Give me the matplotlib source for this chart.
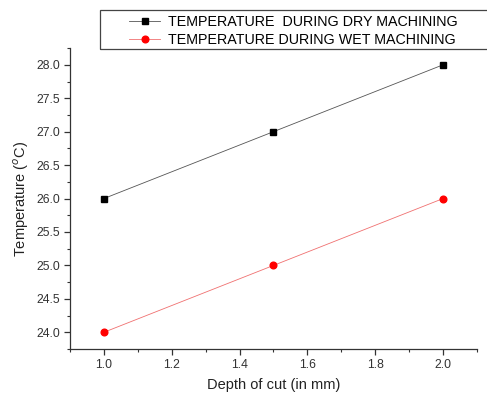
import matplotlib.pyplot as plt
import matplotlib.patches as patches
from matplotlib.ticker import MultipleLocator

plt.rcParams['font.family'] = ['Liberation Sans', 'DejaVu Sans']

depth = [1.0, 1.5, 2.0]
temp_dry = [26.0, 27.0, 28.0]
temp_wet = [24.0, 25.0, 26.0]

fig = plt.figure(figsize=(4.87, 3.94), dpi=100)
ax = fig.add_axes([0.1437, 0.1142, 0.8358, 0.7638])

ax.plot(depth, temp_dry, color='#555555', lw=0.6, marker='s', markersize=4,
        markerfacecolor='black', markeredgecolor='black',
        label='TEMPERATURE  DURING DRY MACHINING')
ax.plot(depth, temp_wet, color='#f07070', lw=0.6, marker='o', markersize=4.8,
        markerfacecolor='red', markeredgecolor='red',
        label='TEMPERATURE DURING WET MACHINING')

ax.set_xlim(0.9, 2.1)
ax.set_ylim(23.75, 28.25)
ax.xaxis.set_minor_locator(MultipleLocator(0.1))
ax.yaxis.set_major_locator(MultipleLocator(0.5))
ax.yaxis.set_minor_locator(MultipleLocator(0.25))
ax.set_xticks([1.0, 1.2, 1.4, 1.6, 1.8, 2.0])
ax.set_xticklabels(['1.0', '1.2', '1.4', '1.6', '1.8', '2.0'])

ax.spines['top'].set_visible(False)
ax.spines['right'].set_visible(False)
for s in ['left', 'bottom']:
    ax.spines[s].set_color('#333333')
    ax.spines[s].set_linewidth(0.9)
ax.tick_params(which='major', direction='out', length=4, width=0.9, labelsize=8.8,
               colors='#333333', pad=3)
ax.tick_params(which='minor', direction='out', length=2.5, width=0.8, colors='#333333')

ax.set_xlabel('Depth of cut (in mm)', fontsize=10.5, labelpad=5, color='#222222')
ax.set_ylabel('Temperature ($^o$C)', fontsize=10.5, labelpad=4, color='#222222')

# Legend frame runs off the right edge, as in the reference
frame = patches.Rectangle((100 / 487, (394 - 49) / 394), 400 / 487, 39 / 394,
                          transform=fig.transFigure, fill=False,
                          edgecolor='#444444', linewidth=0.9)
fig.patches.append(frame)

fig.legend(loc='upper left', bbox_to_anchor=(129 / 487, (394 - 15) / 394), fontsize=10.3,
           frameon=False, handlelength=2.2, borderpad=0, labelspacing=0.25,
           handletextpad=0.5, borderaxespad=0)

fig.savefig('out.png', dpi=100, facecolor='white')
